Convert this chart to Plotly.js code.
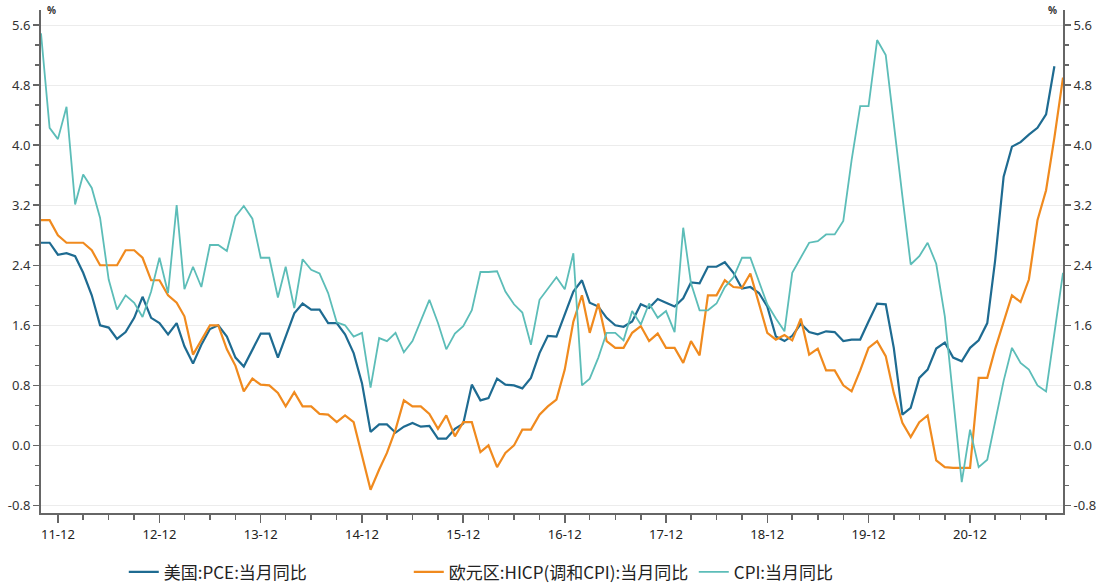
<!DOCTYPE html>
<html>
<head>
<meta charset="utf-8">
<script src="https://cdn.plot.ly/plotly-3.0.1.min.js"></script>
<style>html,body{margin:0;padding:0;background:#fff;}#chart{width:1111px;height:587px;}</style>
</head>
<body>
<div id="chart"></div>
<script>
// Monthly series, 2011-10 .. 2021-11
var startYear = 2011, startMonth = 10, nMonths = 122;
var months = [];
for (var k = 0; k < nMonths; k++) {
  var m = startMonth - 1 + k;
  var yy = startYear + Math.floor(m / 12);
  var mm = (m % 12) + 1;
  months.push(yy + '-' + (mm < 10 ? '0' : '') + mm + '-01');
}

var seriesNames = ['美国:PCE:当月同比', '欧元区:HICP(调和CPI):当月同比', 'CPI:当月同比'];

// 美国:PCE:当月同比 (2011-10 .. 2021-10)
var usPCE = [
  2.70, 2.70, 2.54, 2.56, 2.52, 2.30, 2.00, 1.60, 1.57, 1.42, 1.51, 1.70,
  1.98, 1.70, 1.63, 1.48, 1.63, 1.32, 1.09, 1.34, 1.55, 1.60, 1.45, 1.17,
  1.05, 1.27, 1.49, 1.49, 1.17, 1.45, 1.76, 1.89, 1.81, 1.81, 1.63, 1.63,
  1.48, 1.23, 0.83, 0.18, 0.28, 0.28, 0.17, 0.25, 0.30, 0.25, 0.26, 0.09,
  0.09, 0.22, 0.29, 0.81, 0.60, 0.63, 0.89, 0.81, 0.80, 0.76, 0.90, 1.23,
  1.46, 1.45, 1.74, 2.05, 2.20, 1.90, 1.85, 1.70, 1.60, 1.58, 1.65, 1.88,
  1.83, 1.95, 1.90, 1.85, 1.96, 2.17, 2.16, 2.38, 2.38, 2.44, 2.30, 2.09,
  2.11, 2.03, 1.85, 1.45, 1.39, 1.46, 1.62, 1.51, 1.48, 1.52, 1.51, 1.39,
  1.41, 1.41, 1.65, 1.89, 1.88, 1.30, 0.41, 0.50, 0.90, 1.01, 1.29, 1.37,
  1.17, 1.12, 1.30, 1.40, 1.63, 2.45, 3.58, 3.98, 4.04, 4.14, 4.23, 4.41,
  5.05
];

// 欧元区:HICP(调和CPI):当月同比 (2011-10 .. 2021-11)
var euHICP = [
  3.00, 3.00, 2.80, 2.70, 2.70, 2.70, 2.60, 2.40, 2.40, 2.40, 2.60, 2.60,
  2.50, 2.20, 2.20, 2.00, 1.90, 1.72, 1.21, 1.41, 1.60, 1.60, 1.28, 1.06,
  0.72, 0.89, 0.81, 0.80, 0.70, 0.52, 0.71, 0.52, 0.52, 0.42, 0.41, 0.31,
  0.40, 0.31, -0.14, -0.59, -0.32, -0.10, 0.21, 0.60, 0.52, 0.52, 0.42, 0.22,
  0.40, 0.12, 0.31, 0.31, -0.09, 0.00, -0.29, -0.10, 0.00, 0.21, 0.21, 0.41,
  0.52, 0.61, 1.01, 1.65, 2.00, 1.50, 1.89, 1.39, 1.30, 1.30, 1.50, 1.59,
  1.39, 1.49, 1.30, 1.30, 1.10, 1.39, 1.20, 2.00, 2.00, 2.20, 2.11, 2.10,
  2.29, 1.90, 1.50, 1.41, 1.47, 1.40, 1.69, 1.21, 1.29, 1.00, 1.00, 0.80,
  0.72, 1.00, 1.30, 1.39, 1.19, 0.70, 0.30, 0.11, 0.31, 0.40, -0.20, -0.29,
  -0.30, -0.30, -0.30, 0.90, 0.90, 1.28, 1.63, 2.00, 1.91, 2.21, 3.00, 3.40,
  4.10, 4.90
];

// CPI:当月同比 (2011-10 .. 2021-11)
var cnCPI = [
  5.49, 4.23, 4.08, 4.51, 3.21, 3.61, 3.43, 3.03, 2.21, 1.81, 2.00, 1.90,
  1.71, 2.05, 2.50, 2.03, 3.20, 2.08, 2.38, 2.11, 2.67, 2.67, 2.59, 3.05,
  3.19, 3.02, 2.50, 2.50, 1.97, 2.38, 1.83, 2.48, 2.34, 2.29, 2.03, 1.64,
  1.60, 1.45, 1.50, 0.77, 1.43, 1.39, 1.50, 1.24, 1.39, 1.65, 1.94, 1.63,
  1.28, 1.49, 1.59, 1.80, 2.31, 2.31, 2.32, 2.05, 1.88, 1.77, 1.34, 1.94,
  2.08, 2.24, 2.08, 2.56, 0.80, 0.89, 1.17, 1.50, 1.50, 1.40, 1.79, 1.61,
  1.89, 1.70, 1.79, 1.51, 2.90, 2.16, 1.80, 1.80, 1.89, 2.11, 2.24, 2.50,
  2.50, 2.19, 1.88, 1.69, 1.52, 2.30, 2.50, 2.70, 2.72, 2.81, 2.81, 2.99,
  3.80, 4.52, 4.52, 5.40, 5.20, 4.25, 3.32, 2.41, 2.52, 2.70, 2.42, 1.72,
  0.60, -0.49, 0.21, -0.29, -0.19, 0.32, 0.86, 1.30, 1.10, 1.01, 0.80, 0.72,
  1.48, 2.30
];

var yTicks = [-0.8, 0.0, 0.8, 1.6, 2.4, 3.2, 4.0, 4.8, 5.6];
var yTickText = yTicks.map(function (v) { return v.toFixed(1); });

var colors = ['#1E6B91', '#F08A1E', '#5CBDB8'];

var traces = [
  { x: months.slice(0, usPCE.length), y: usPCE, name: seriesNames[0], type: 'scatter', mode: 'lines',
    line: { color: colors[0], width: 2.2 }, yaxis: 'y' },
  { x: months.slice(0, euHICP.length), y: euHICP, name: seriesNames[1], type: 'scatter', mode: 'lines',
    line: { color: colors[1], width: 2.2 }, yaxis: 'y' },
  { x: months.slice(0, cnCPI.length), y: cnCPI, name: seriesNames[2], type: 'scatter', mode: 'lines',
    line: { color: colors[2], width: 1.8 }, yaxis: 'y2' }
];

var axisFont = { family: 'Noto Sans, DejaVu Sans, sans-serif', size: 13, color: '#333' };
var yRange = [-0.9, 5.8];

var yCommon = {
  range: yRange, tickmode: 'array', tickvals: yTicks, ticktext: yTickText,
  ticks: 'outside', ticklen: 6, tickwidth: 1.5, tickcolor: '#666',
  minor: { tick0: -0.8, dtick: 0.8 / 3, ticks: 'outside', ticklen: 4, tickwidth: 1.5, tickcolor: '#666', showgrid: false },
  showline: true, linecolor: '#666', linewidth: 2, zeroline: false,
  tickfont: axisFont, fixedrange: true
};

var layout = {
  width: 1111, height: 587,
  margin: { l: 41, r: 48, t: 10, b: 74, autoexpand: false },
  paper_bgcolor: '#fff', plot_bgcolor: '#fff',
  showlegend: true,
  legend: {
    orientation: 'h', x: 0.081, xanchor: 'left', y: -0.118, yanchor: 'middle',
    font: { family: 'Noto Sans CJK SC, Noto Sans, sans-serif', size: 17, color: '#222' },
    entrywidth: 240, entrywidthmode: 'pixels', itemwidth: 30, traceorder: 'normal'
  },
  xaxis: {
    type: 'date', range: [months[0], months[nMonths - 1]],
    tickmode: 'linear', tick0: '2011-12-01', dtick: 'M12', tickformat: '%y-%m',
    ticks: 'outside', ticklen: 8, tickwidth: 1.5, tickcolor: '#666',
    minor: { tick0: '2011-12-01', dtick: 'M3', ticks: 'outside', ticklen: 5, tickwidth: 1.5, tickcolor: '#666', showgrid: false },
    showline: true, linecolor: '#666', linewidth: 2, showgrid: false, zeroline: false,
    tickfont: { family: 'Noto Sans, DejaVu Sans, sans-serif', size: 13, color: '#222' },
    fixedrange: true
  },
  yaxis: Object.assign({}, yCommon, { side: 'left', showgrid: true, gridcolor: '#ECECEC', gridwidth: 1 }),
  yaxis2: Object.assign({}, yCommon, { side: 'right', overlaying: 'y', showgrid: false }),
  annotations: [
    { xref: 'paper', yref: 'paper', x: 0.004, y: 1.0, xanchor: 'left', yanchor: 'middle', text: '<b>%</b>', showarrow: false,
      font: { family: 'Noto Sans, sans-serif', size: 10, color: '#333' } },
    { xref: 'paper', yref: 'paper', x: 0.996, y: 1.0, xanchor: 'right', yanchor: 'middle', text: '<b>%</b>', showarrow: false,
      font: { family: 'Noto Sans, sans-serif', size: 10, color: '#333' } }
  ]
};

Plotly.newPlot('chart', traces, layout, { displayModeBar: false, staticPlot: true });
</script>
</body>
</html>
